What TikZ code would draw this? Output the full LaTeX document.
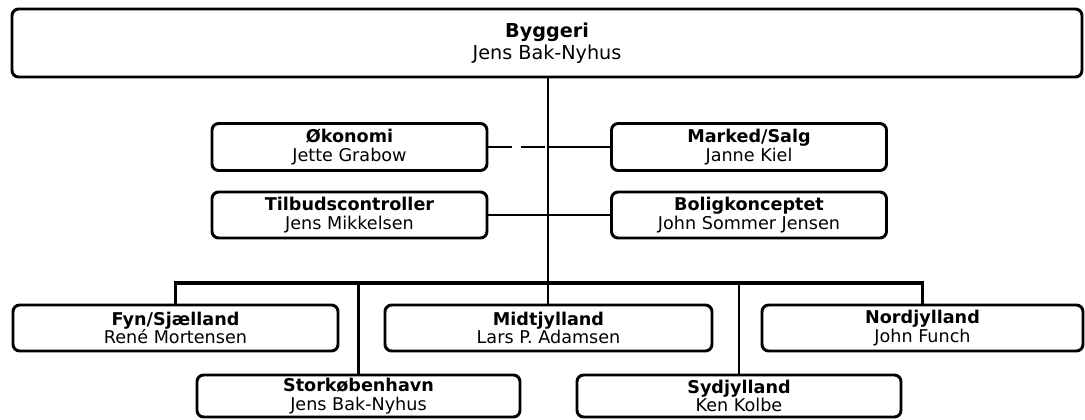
\documentclass[tikz,border=0pt]{standalone}
\usepackage{fontspec}
\setmainfont{DejaVu Sans}
\usepackage{tikz}

\tikzset{
    unitbox/.style={draw=black, line width=2.2pt, rounded corners=5pt, align=center, inner sep=0pt, font=\fontsize{13.2}{13.9}\selectfont},
    link/.style={line width=1.9pt}
}

\begin{document}
\begin{tikzpicture}[x=0.75pt, y=-0.75pt]
    \useasboundingbox (0,0) rectangle (1085,419);

    % Management
    \node[unitbox, minimum width=802.5pt, minimum height=51pt, font=\fontsize{14.4}{16.2}\selectfont] (byg) at (547,43) {\textbf{Byggeri}\\Jens Bak-Nyhus};

    % Staff functions
    \node[unitbox, minimum width=206.25pt, minimum height=35.25pt] (oko) at (349.5,147) {\textbf{Økonomi}\\Jette Grabow};
    \node[unitbox, minimum width=206.25pt, minimum height=35.25pt] (mar) at (749,147) {\textbf{Marked/Salg}\\Janne Kiel};
    \node[unitbox, minimum width=206.25pt, minimum height=34.5pt] (til) at (349.5,215) {\textbf{Tilbudscontroller}\\Jens Mikkelsen};
    \node[unitbox, minimum width=206.25pt, minimum height=34.5pt] (bol) at (749,215) {\textbf{Boligkonceptet}\\John Sommer Jensen};

    % Regions
    \node[unitbox, minimum width=243.75pt, minimum height=34.5pt] (fyn) at (175.5,328) {\textbf{Fyn/Sjælland}\\René Mortensen};
    \node[unitbox, minimum width=245.25pt, minimum height=34.5pt] (mid) at (548.5,328) {\textbf{Midtjylland}\\Lars P. Adamsen};
    \node[unitbox, minimum width=240.75pt, minimum height=34.5pt] (nor) at (922.5,328) {\textbf{Nordjylland}\\John Funch};
    \node[unitbox, minimum width=242.25pt, minimum height=31.5pt] (sto) at (358.5,396) {\textbf{Storkøbenhavn}\\Jens Bak-Nyhus};
    \node[unitbox, minimum width=243pt, minimum height=31.5pt] (syd) at (739,396) {\textbf{Sydjylland}\\Ken Kolbe};

    % Spine and bus
    \coordinate (bus) at (548,283);
    \draw[link] (byg.south -| bus) -- (bus) -- (mid.north -| bus);
    \draw[link, line width=2.3pt] (fyn.north) |- (bus) -| (nor.north);
    \draw[link] (bus -| sto.north) -- (sto.north);
    \draw[link] (bus -| syd.north) -- (syd.north);

    % Staff links
    \draw[link, dash pattern=on 18pt off 6.5pt] (oko.east) -- (oko.east -| bus);
    \draw[link] (oko.east -| bus) -- (mar.west);
    \draw[link] (til.east) -- (bol.west);
\end{tikzpicture}
\end{document}
